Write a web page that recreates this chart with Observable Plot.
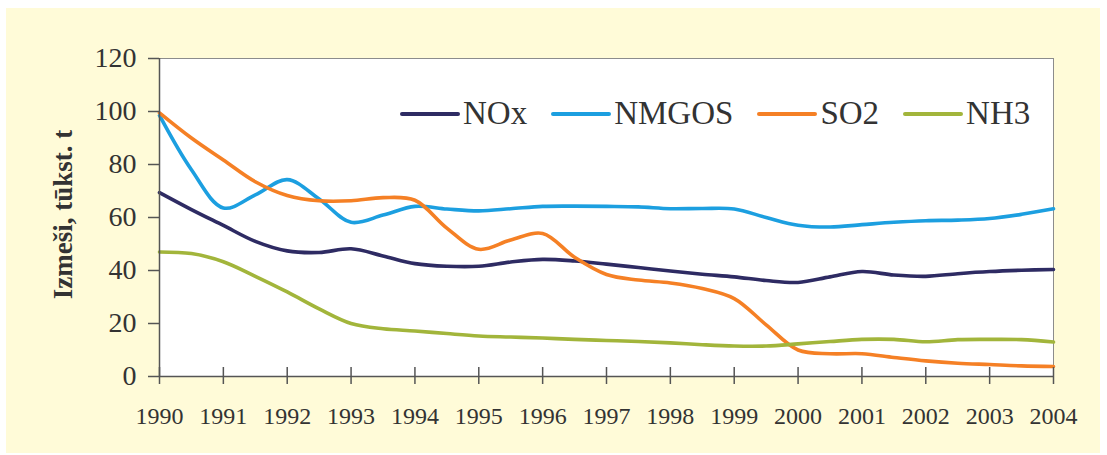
<!DOCTYPE html>
<html>
<head>
<meta charset="utf-8">
<script src="https://cdn.jsdelivr.net/npm/d3@7"></script>
<script src="https://cdn.jsdelivr.net/npm/@observablehq/plot@0.6"></script>
<style>
  html, body { margin: 0; padding: 0; background: #ffffff; }
  #wrap { position: relative; width: 1107px; height: 455px; overflow: hidden; }
  #bg { position: absolute; left: 6px; top: 8px; width: 1094px; height: 445px; background: #fffbd8; }
  #chart { position: absolute; left: 0; top: 0; }
  #legend { position: absolute; left: 400px; top: 95px; display: flex; align-items: center; gap: 24px;
            font-family: "Liberation Serif", "Times New Roman", serif; font-size: 33px; color: #333; }
  #legend .item { display: flex; align-items: center; }
  #legend .sw { width: 60px; height: 4px; border-radius: 2px; margin-right: 3px; }
</style>
</head>
<body>
<div id="wrap">
  <div id="bg"></div>
  <div id="chart"></div>
  <div id="legend"></div>
</div>
<script>
// ---- data ----
const seriesNames = ["NOx", "NMGOS", "SO2", "NH3"];
const seriesColors = ["#2e2b63", "#1c9fe0", "#f58025", "#a2b53b"];
const years = [1990, 1990.5, 1991, 1991.5, 1992, 1992.5, 1993, 1993.5, 1994, 1994.5,
               1995, 1995.5, 1996, 1996.5, 1997, 1997.5, 1998, 1998.5, 1999, 1999.5,
               2000, 2000.5, 2001, 2001.5, 2002, 2002.5, 2003, 2003.5, 2004];
const nox   = [69.4, 63, 57, 51, 47.4, 46.8, 48.2, 45.5, 42.6, 41.6,
               41.6, 43.2, 44.2, 43.6, 42.4, 41.1, 39.8, 38.6, 37.6, 36.2,
               35.5, 37.6, 39.6, 38.3, 37.8, 38.8, 39.6, 40.1, 40.4];
const nmgos = [98.5, 78, 63.6, 68.5, 74.3, 67, 58.2, 60.9, 64.2, 63.2,
               62.5, 63.3, 64.2, 64.3, 64.2, 64, 63.3, 63.4, 63.2, 60,
               57.1, 56.4, 57.3, 58.2, 58.8, 59, 59.6, 61.2, 63.3];
const so2   = [99.5, 90, 81.7, 73.5, 68.3, 66.3, 66.3, 67.5, 66.5, 56,
               48, 51.5, 54, 45, 38.5, 36.4, 35.3, 33.2, 29.4, 19.5,
               10, 8.6, 8.6, 7.2, 5.9, 5, 4.5, 4, 3.8];
const nh3   = [47, 46.4, 43.3, 37.8, 31.9, 25.5, 20, 18, 17.2, 16.2,
               15.3, 14.9, 14.5, 14, 13.6, 13.2, 12.7, 12, 11.5, 11.5,
               12.3, 13.2, 14, 14, 13.1, 13.9, 14, 13.9, 13];
const xTicks = [1990, 1991, 1992, 1993, 1994, 1995, 1996, 1997, 1998, 1999, 2000, 2001, 2002, 2003, 2004];
const yTicks = [0, 20, 40, 60, 80, 100, 120];
const yLabel = "Izmeši, tūkst. t";

// ---- table ----
const seriesValues = [nox, nmgos, so2, nh3];
const rows = [];
seriesNames.forEach((name, i) => {
  years.forEach((yr, j) => rows.push({series: name, year: yr, value: seriesValues[i][j]}));
});

const serif = "Liberation Serif, Times New Roman, serif";

const chart = Plot.plot({
  width: 1107,
  height: 455,
  marginLeft: 159,
  marginRight: 54,
  marginTop: 58,
  marginBottom: 79,
  style: {background: "transparent", fontFamily: serif, color: "#333"},
  x: {domain: [1990, 2004]},
  y: {domain: [0, 120]},
  color: {domain: seriesNames, range: seriesColors},
  marks: [
    Plot.frame({fill: "white", stroke: "#8c8c8c"}),
    Plot.line(rows, {x: "year", y: "value", stroke: "series", strokeWidth: 3.6, curve: "catmull-rom"}),
    Plot.ruleY([0], {stroke: "#555", strokeWidth: 1.5}),
    Plot.ruleX([1990], {stroke: "#555", strokeWidth: 1.5}),
    Plot.axisY({ticks: yTicks, tickSize: 11, tickPadding: 12, fontSize: 28, fontFamily: serif,
                stroke: "#555", fill: "#333", strokeWidth: 1.5, label: null}),
    Plot.axisX({ticks: xTicks, tickFormat: d => String(d), tickSize: 17, dy: -9, tickPadding: 22,
                fontSize: 24, fontFamily: serif, stroke: "#555", fill: "#333", strokeWidth: 1.5, label: null}),
    Plot.text([yLabel], {frameAnchor: "left", textAnchor: "middle", dx: -96, dy: -3, rotate: -90, fontSize: 27,
                         fontWeight: "bold", fontFamily: serif, fill: "#333"})
  ]
});
document.getElementById("chart").appendChild(chart);

// ---- legend ----
const legend = document.getElementById("legend");
seriesNames.forEach((name, i) => {
  const item = document.createElement("div");
  item.className = "item";
  const sw = document.createElement("div");
  sw.className = "sw";
  sw.style.background = seriesColors[i];
  const tx = document.createElement("span");
  tx.textContent = name;
  item.appendChild(sw);
  item.appendChild(tx);
  legend.appendChild(item);
});
</script>
</body>
</html>
